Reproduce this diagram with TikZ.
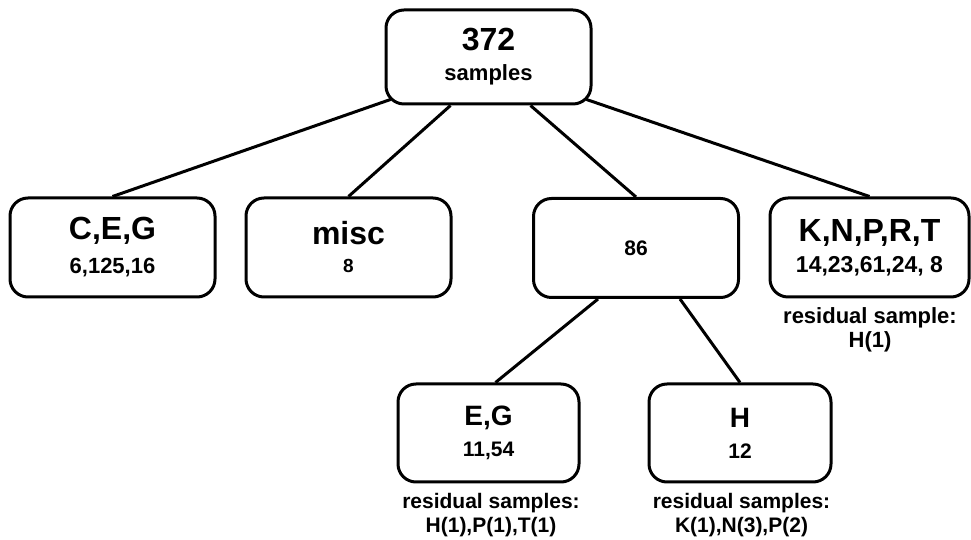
\documentclass[tikz,border=0pt]{standalone}
\usepackage{fontspec}
\setmainfont{Liberation Sans}
\usetikzlibrary{backgrounds,calc}
\tikzset{
  box/.style={draw=black, line width=3pt, rounded corners=18pt, fill=white,
    align=center, inner sep=0pt, minimum width=205pt, minimum height=99pt,
    font=\bfseries},
  edge/.style={draw=black, line width=3pt},
  note/.style={align=center, inner sep=0pt, font=\bfseries\fontsize{21}{24}\selectfont},
}
\newcommand{\bigt}[1]{{\fontsize{32}{34}\selectfont #1}}
\begin{document}
\begin{tikzpicture}[x=1pt,y=1pt]
\useasboundingbox (0,0) rectangle (971,540);

\node[box, minimum height=94pt, font=\bfseries\fontsize{22}{30}\selectfont] (root) at (488.5,483) {\bigt{372}\\samples};
\node[box, font=\bfseries\fontsize{22}{34}\selectfont] (ceg) at (112.5,292.5) {\bigt{C,E,G}\\6,125,16};
\node[box, font=\bfseries\fontsize{19}{28}\selectfont] (misc) at (348.5,292.5) {\bigt{misc}\\8};
\node[box, font=\bfseries\fontsize{21}{24}\selectfont] (n86) at (636,292) {86};
\node[box, minimum width=199pt, font=\bfseries\fontsize{23}{31}\selectfont] (knprt) at (869.5,292.5) {\bigt{K,N,P,R,T}\\14,23,61,24, 8};
\node[note, font=\bfseries\fontsize{22}{23.5}\selectfont] (res1) at (870,210) {residual sample:\\H(1)};

\node[box, minimum width=181pt, minimum height=98pt, font=\bfseries\fontsize{21}{31}\selectfont] (eg) at (488.5,107) {{\fontsize{28}{30}\selectfont E,G}\\11,54};
\node[box, minimum width=182pt, minimum height=98pt, font=\bfseries\fontsize{21}{31}\selectfont] (h) at (740,107) {{\fontsize{28}{30}\selectfont H}\\12};
\node[note] (res2) at (491,25) {residual samples:\\H(1),P(1),T(1)};
\node[note] (res3) at (741.5,25) {residual samples:\\K(1),N(3),P(2)};

\begin{scope}[on background layer]
\fill[white] (0,0) rectangle (971,540);
\draw[edge] ($(root.south west)+(6,6)$) -- (ceg.north);
\draw[edge] ([xshift=-38pt]root.south) -- (misc.north);
\draw[edge] ([xshift=42pt]root.south) -- (n86.north);
\draw[edge] ($(root.south east)+(-6,6)$) -- (knprt.north);
\draw[edge] ([xshift=-38pt]n86.south) -- ([xshift=7pt]eg.north);
\draw[edge] ([xshift=44pt]n86.south) -- (h.north);
\end{scope}
\end{tikzpicture}
\end{document}
